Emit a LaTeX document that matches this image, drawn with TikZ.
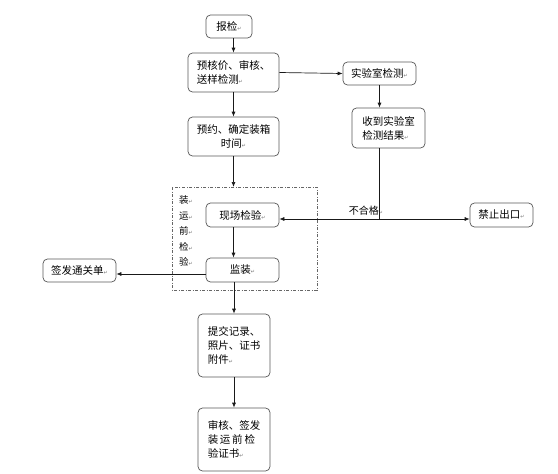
\documentclass[tikz,border=0pt]{standalone}
\usepackage{fontspec}
\setmainfont{Noto Sans CJK SC}
\newfontfamily\symf{DejaVu Sans}
\usetikzlibrary{arrows.meta}
\newcommand{\rmk}{{\symf\fontsize{5}{5}\selectfont\color{black!55}↵}}
\tikzset{
  box/.style={draw=black!65, line width=0.7pt, rounded corners=4.5pt, fill=white,
    inner sep=0pt, font=\fontsize{10.5}{14}\selectfont, text=black},
  conn/.style={line width=0.7pt, draw=black!90, -{Latex[length=5pt,width=4pt]}},
  plain/.style={line width=0.7pt, draw=black!90},
  vt/.style={font=\fontsize{9.5}{10}\selectfont, text=black, inner sep=0pt}
}
\begin{document}
\begin{tikzpicture}[x=1pt,y=-1pt]
\useasboundingbox (0,0) rectangle (558,474);
\fill[white] (0,0) rectangle (558,474);
% dashed box
\draw[black!60, line width=0.6pt, dash pattern=on 3pt off 1.5pt on 1pt off 1.5pt] (172,187) rectangle (317,290);
% nodes
\node[box, minimum width=46pt, minimum height=23pt] (bj) at (229,26.5) {报检\rmk};
\node[box, minimum width=91pt, minimum height=39pt, align=left] (ys) at (233.5,72.5) {预核价、审核、\\送样检测\rmk};
\node[box, minimum width=73pt, minimum height=23pt] (sys) at (379.5,73.5) {实验室检测\rmk};
\node[box, minimum width=73pt, minimum height=40pt, align=left] (sd) at (388.5,128) {收到实验室\\检测结果\rmk};
\node[box, minimum width=91pt, minimum height=39pt, align=center] (yy) at (233.5,136.5) {预约、确定装箱\\时间\rmk};
\node[box, minimum width=73pt, minimum height=24pt] (xc) at (242.5,215) {现场检验\rmk};
\node[box, minimum width=73pt, minimum height=24pt] (jz) at (242.5,270) {监装\rmk};
\node[box, minimum width=63pt, minimum height=24pt] (jq) at (501.5,215) {禁止出口\rmk};
\node[box, minimum width=73pt, minimum height=23pt] (qf) at (79.5,270.5) {签发通关单\rmk};
\node[box, minimum width=72pt, minimum height=63pt, align=left] (tj) at (234,345.5) {提交记录、\\照片、证书\\附件\rmk};
\node[box, minimum width=72pt, minimum height=63pt, align=left] (sh) at (234,439.5) {审核、签发\\装\,运\,前\,检\\验证书\rmk};
% vertical label
\node[vt] (v1) at (186,200) {装\rmk};
\node[vt] (v2) at (186,216) {运\rmk};
\node[vt] (v3) at (186,231) {前\rmk};
\node[vt] (v4) at (186,247) {检\rmk};
\node[vt] (v5) at (186,262) {验\rmk};
\node[font=\fontsize{10}{10}\selectfont, text=black, inner sep=0pt] (bhg) at (366,211) {不合格\rmk};
% coordinates
\coordinate (dtop) at (ys.south |- 0,187);
\coordinate (jn) at (sys.south |- 0,219);
% connectors
\draw[conn] (ys.north |- bj.south) -- (ys.north);
\draw[conn] (ys.south) -- (yy.north);
\draw[conn] (yy.south) -- (dtop);
\draw[conn] (ys.east) -- (sys.west);
\draw[conn] (sys.south) -- (sys.south |- sd.north);
\draw[plain] (sys.south |- sd.south) -- (jn);
\draw[conn] (jn) -- (xc.east |- jn);
\draw[conn] (jn) -- (jq.west |- jn);
\draw[conn] (ys.south |- xc.south) -- (ys.south |- jz.north);
\draw[conn] (jz.west |- 0,274) -- (qf.east |- 0,274);
\draw[conn] (tj.north |- jz.south) -- (tj.north);
\draw[conn] (tj.south) -- (sh.north);
\end{tikzpicture}
\end{document}
